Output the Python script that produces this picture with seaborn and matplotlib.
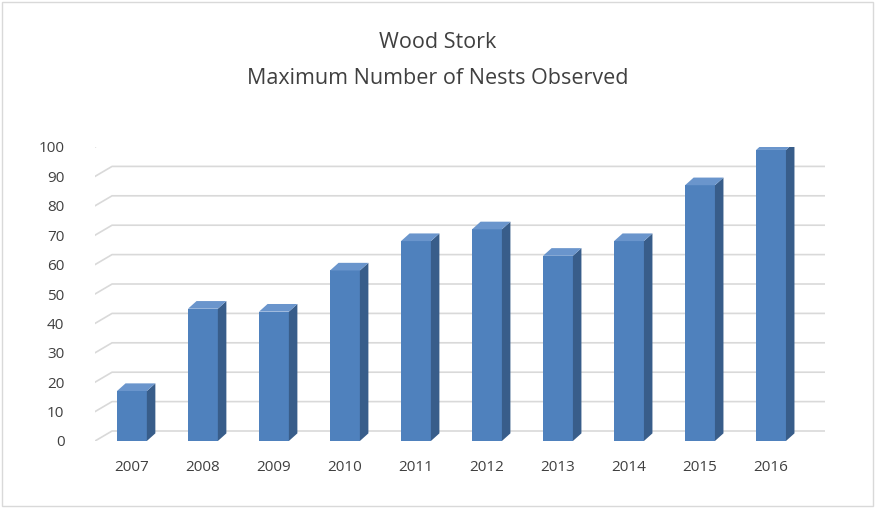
import matplotlib
matplotlib.use("Agg")
import matplotlib.pyplot as plt
import seaborn as sns
import pandas as pd
from matplotlib.patches import Polygon, Rectangle

years = ["2007", "2008", "2009", "2010", "2011", "2012", "2013", "2014", "2015", "2016"]
nests = [17, 45, 44, 58, 68, 72, 63, 68, 87, 99]
yticks = [0, 10, 20, 30, 40, 50, 60, 70, 80, 90, 100]

df = pd.DataFrame({"year": years, "nests": nests})

plt.rcParams["font.family"] = "Open Sans"
fig = plt.figure(figsize=(8.76, 5.08), dpi=100)
ax = fig.add_axes([95 / 876, (508 - 441) / 508, (825 - 95) / 876, 294 / 508])

front = "#4F81BD"
side = "#385D8A"
top = "#6A95CC"
w = 0.42
dx, dy = 0.12, 2.6

# back grid with a slanted floor edge
x0, x1 = -0.52, 9.76
for v in yticks:
    ax.plot([x0, x0 + 0.24, x1], [v, v + 3.4, v + 3.4], color="#D9D9D9", lw=1.2, zorder=0)

sns.barplot(data=df, x="year", y="nests", color=front, width=w, saturation=1, ax=ax, zorder=2)

for i, v in enumerate(nests):
    r = i + w / 2
    l = i - w / 2
    ax.add_patch(Polygon([(r, 0), (r + dx, dy), (r + dx, v + dy), (r, v)],
                         closed=True, fc=side, ec="none", zorder=3))
    ax.add_patch(Polygon([(l, v), (l + dx, v + dy), (r + dx, v + dy), (r, v)],
                         closed=True, fc=top, ec="none", zorder=3))

ax.set_xlim(x0, x1)
ax.set_ylim(0, 100)
ax.set_yticks(yticks)
ax.set_xlabel("")
ax.set_ylabel("")
for s in ax.spines.values():
    s.set_visible(False)
ax.tick_params(length=0, labelsize=11, colors="#404040")
ax.tick_params(axis="y", pad=22)
ax.tick_params(axis="x", pad=14)
ax.patch.set_alpha(0)

fig.text(0.5, 1 - 42 / 508, "Wood Stork", ha="center", va="center", fontsize=15.5, color="#404040")
fig.text(0.5, 1 - 79 / 508, "Maximum Number of Nests Observed", ha="center", va="center",
         fontsize=15.5, color="#404040")
fig.patches.append(Rectangle((0.002, 0.003), 0.995, 0.993, transform=fig.transFigure,
                             fill=False, ec="#D9D9D9", lw=1))

fig.savefig("out.png", dpi=100)
